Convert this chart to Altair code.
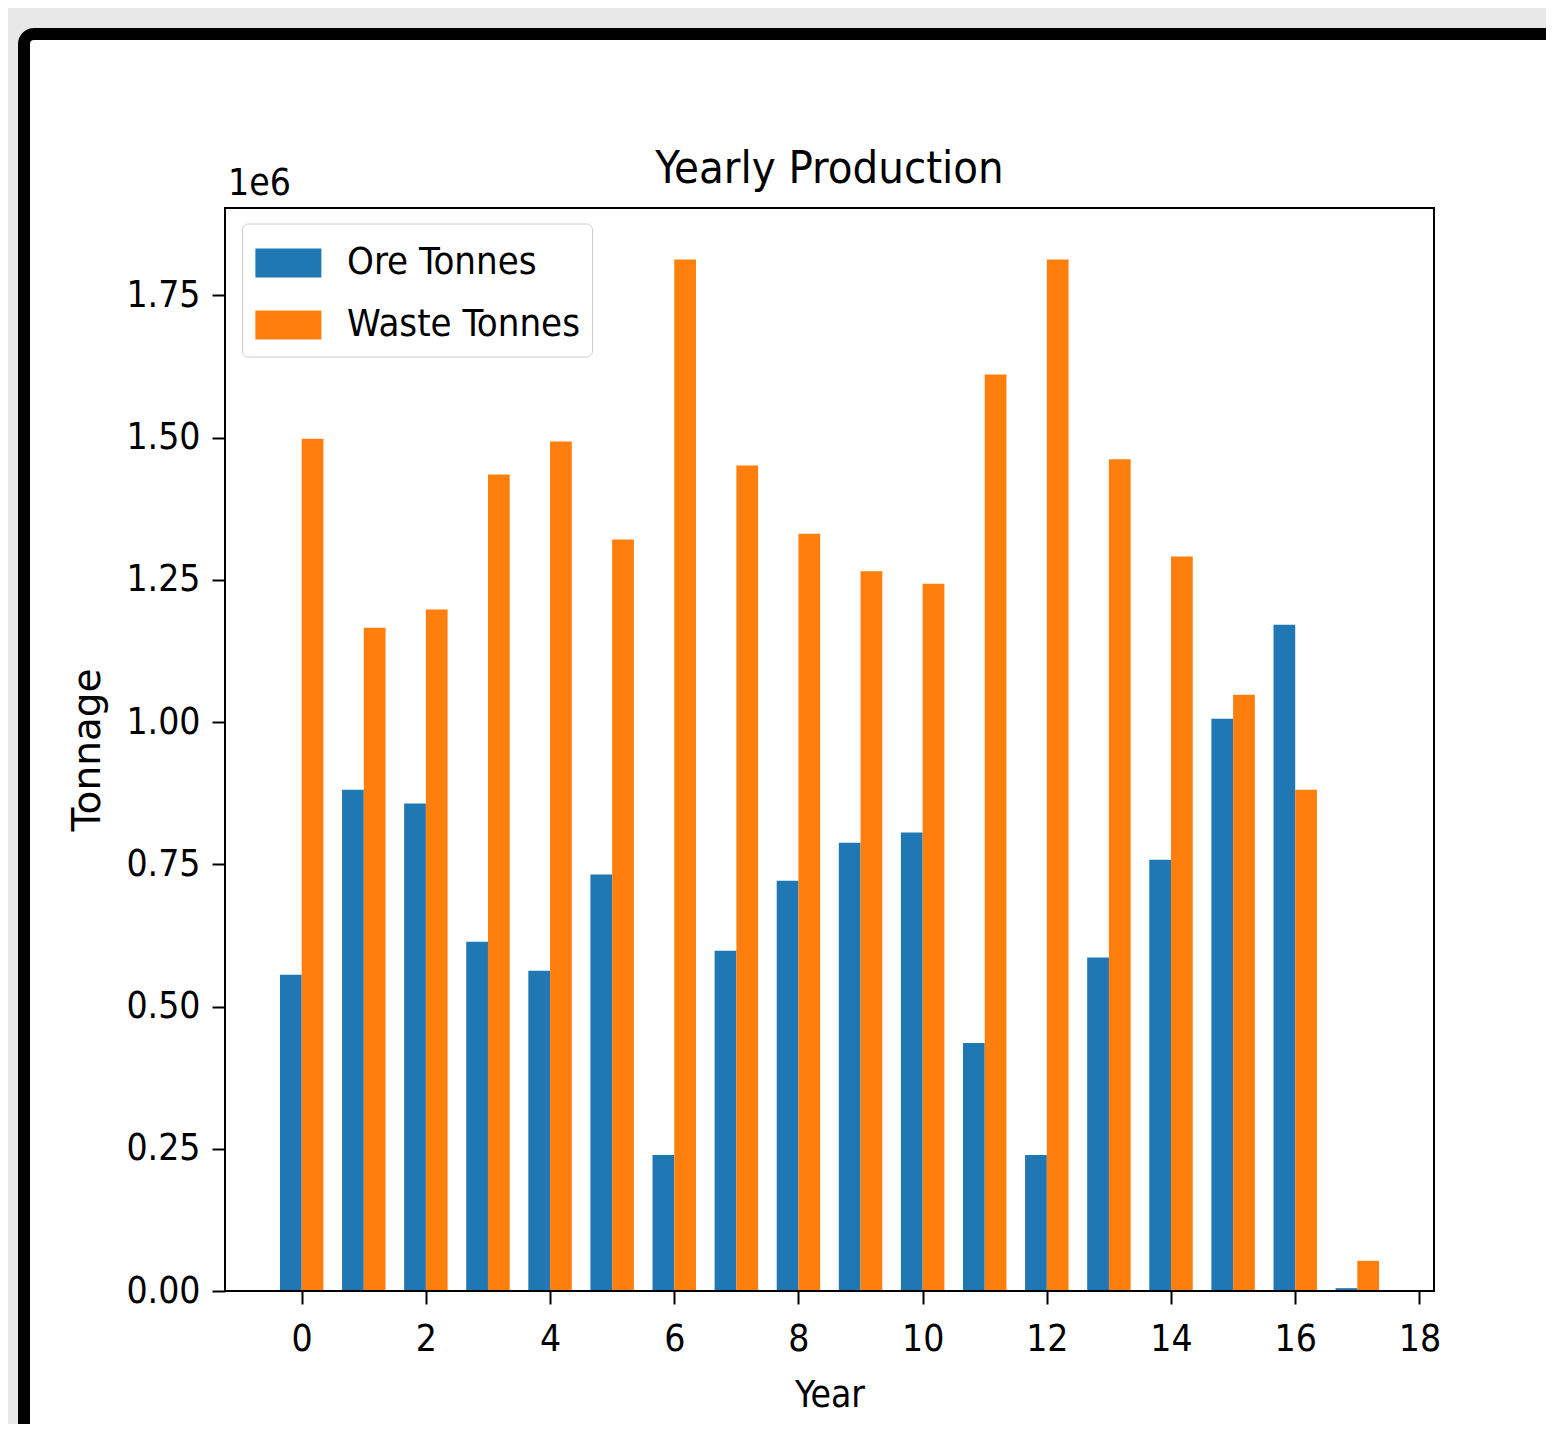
import altair as alt
import pandas as pd

years = list(range(18))
ore_tonnes = [0.556e6, 0.881e6, 0.857e6, 0.614e6, 0.563e6, 0.732e6, 0.239e6, 0.598e6, 0.721e6,
              0.788e6, 0.806e6, 0.436e6, 0.239e6, 0.586e6, 0.758e6, 1.006e6, 1.171e6, 0.005e6]
waste_tonnes = [1.498e6, 1.166e6, 1.198e6, 1.435e6, 1.493e6, 1.321e6, 1.813e6, 1.451e6, 1.331e6,
                1.265e6, 1.243e6, 1.611e6, 1.813e6, 1.462e6, 1.291e6, 1.048e6, 0.881e6, 0.053e6]
series_names = ["Ore Tonnes", "Waste Tonnes"]
series_colors = ["#1f77b4", "#ff7f0e"]
x_ticks = list(range(0, 19, 2))
y_ticks = [0, 250000, 500000, 750000, 1000000, 1250000, 1500000, 1750000]
chart_title = "Yearly Production"
x_title = "Year"
y_title = "Tonnage"
exponent_text = "1e6"

BAR_W = 0.35
FONT = "DejaVu Sans Condensed, DejaVu Sans"
FONT_V = "DejaVu Sans"
W, H = 1209, 1083

rows = []
for y, o, w in zip(years, ore_tonnes, waste_tonnes):
    rows.append({"Year": y, "Series": series_names[0], "Tonnage": o})
    rows.append({"Year": y, "Series": series_names[1], "Tonnage": w})
df = pd.DataFrame(rows)

xmin = min(years) - BAR_W
xmax = max(years) + BAR_W
xpad = (xmax - xmin) * 0.05
ymax = max(max(ore_tonnes), max(waste_tonnes)) * 1.05

x_scale = alt.Scale(domain=[xmin - xpad, xmax + xpad], nice=False, zero=False)
y_scale = alt.Scale(domain=[0, ymax], nice=False)

one = pd.DataFrame({"k": [0]})

frame = alt.Chart(one).mark_rect(
    fill="white", stroke="black", strokeWidth=12, cornerRadius=10
).encode(
    x=alt.value(-201), x2=alt.value(1400), y=alt.value(-174), y2=alt.value(1300)
)

bars = alt.Chart(df).transform_calculate(
    x0="datum.Year + (datum.Series == 'Ore Tonnes' ? -%f : 0)" % BAR_W,
).transform_calculate(
    x1="datum.x0 + %f" % BAR_W
).mark_rect().encode(
    x=alt.X("x0:Q", scale=x_scale,
            axis=alt.Axis(title=x_title, values=x_ticks, format="d", grid=False, domain=False,
                          tickSize=13, tickWidth=2, tickColor="black",
                          labelFont=FONT, labelFontSize=37, labelColor="black", labelPadding=17,
                          titleFont=FONT, titleFontSize=37, titleFontWeight="normal",
                          titleColor="black", titlePadding=20, zindex=1)),
    x2="x1:Q",
    y=alt.Y("Tonnage:Q", scale=y_scale,
            axis=alt.Axis(title=y_title, values=y_ticks,
                          labelExpr="format(datum.value / 1000000, '.2f')",
                          grid=False, domain=False,
                          tickSize=13, tickWidth=2, tickColor="black",
                          labelFont=FONT, labelFontSize=37, labelColor="black", labelPadding=12,
                          titleFont=FONT_V, titleFontSize=39, titleFontWeight="normal",
                          titleColor="black", titlePadding=18, zindex=1)),
    color=alt.Color("Series:N",
                    scale=alt.Scale(domain=series_names, range=series_colors),
                    legend=alt.Legend(title=None, orient="none", legendX=17, legendY=15.5,
                                      symbolType="M-0.95,-0.53L1.45,-0.53L1.45,0.53L-0.95,0.53Z",
                                      symbolSize=3025, symbolStrokeWidth=0,
                                      labelFont=FONT, labelFontSize=38, labelColor="black",
                                      labelLimit=0, labelOffset=38, rowPadding=15, padding=12,
                                      fillColor="white", strokeColor="#cccccc",
                                      cornerRadius=6, zindex=2)),
)

border = alt.Chart(one).mark_rect(
    filled=False, stroke="black", strokeWidth=2
).encode(
    x=alt.value(0), x2=alt.value(W), y=alt.value(0), y2=alt.value(H)
)

exp_label = alt.Chart(one).mark_text(
    text=exponent_text, font=FONT, fontSize=37, align="left", baseline="alphabetic", color="black"
).encode(
    x=alt.value(3), y=alt.value(-13)
)

title_mark = alt.Chart(one).mark_text(
    text=chart_title, font=FONT, fontSize=45, align="center", baseline="alphabetic", color="black"
).encode(
    x=alt.value(W / 2), y=alt.value(-25)
)

chart = alt.layer(frame, bars, border, exp_label, title_mark).properties(
    width=W, height=H,
    padding={"left": 217, "top": 200, "right": 112, "bottom": 133},
    autosize=alt.AutoSizeParams(type="none"),
).configure(
    background="#e8e8e8"
).configure_view(
    stroke=None
)

chart.save("out.html", embed_options={"renderer": "svg", "actions": False})
